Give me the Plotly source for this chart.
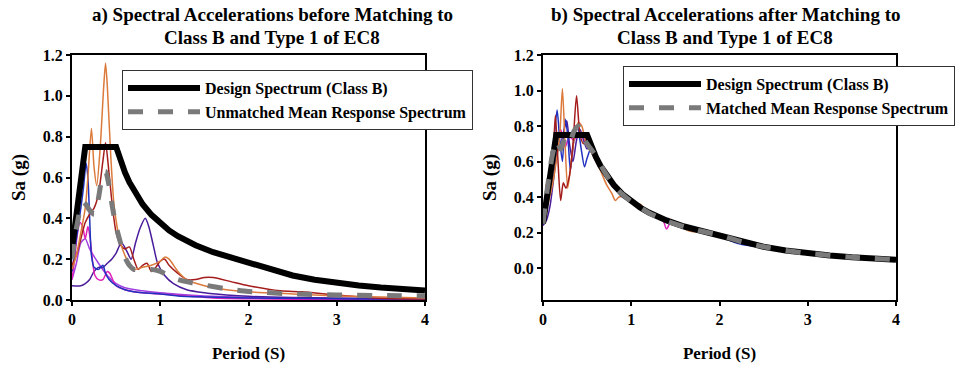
import plotly.graph_objects as go

# ---------------- data ----------------
# EC8 Type 1, Class B design spectrum
design_T = [0, 0.15, 0.5, 0.55, 0.6, 0.65, 0.7, 0.8, 0.9, 1.0, 1.1, 1.2, 1.4, 1.6, 1.8, 2.0,
            2.25, 2.5, 2.75, 3.0, 3.25, 3.5, 3.75, 4.0]
design_Sa = [0.25, 0.75, 0.75, 0.682, 0.625, 0.577, 0.536, 0.469, 0.417, 0.375, 0.341, 0.3125,
             0.268, 0.234, 0.208, 0.1875, 0.148, 0.12, 0.099, 0.083, 0.071, 0.061, 0.053, 0.047]

# ---- a) before matching ----
a_orange_T = [0, 0.05, 0.1, 0.15, 0.18, 0.22, 0.25, 0.28, 0.32, 0.36, 0.38, 0.40, 0.44, 0.48, 0.55,
              0.62, 0.7, 0.8, 0.9, 1.0, 1.05, 1.1, 1.2, 1.3, 1.5, 1.75, 2.0, 2.5, 3.0, 3.5, 4.0]
a_orange_Sa = [0.15, 0.22, 0.33, 0.45, 0.6, 0.84, 0.65, 0.56, 0.75, 1.05, 1.16, 1.05, 0.7, 0.45, 0.28,
               0.2, 0.15, 0.16, 0.17, 0.19, 0.21, 0.2, 0.14, 0.1, 0.07, 0.05, 0.04, 0.03, 0.02, 0.015, 0.01]

a_red_T = [0, 0.05, 0.1, 0.15, 0.2, 0.25, 0.3, 0.35, 0.38, 0.42, 0.46, 0.5, 0.55, 0.6, 0.65, 0.7,
           0.75, 0.8, 0.85, 0.9, 0.95, 1.0, 1.05, 1.1, 1.2, 1.3, 1.4, 1.5, 1.6, 1.8, 2.0, 2.36, 2.6,
           3.0, 3.5, 4.0]
a_red_Sa = [0.17, 0.22, 0.3, 0.38, 0.42, 0.45, 0.52, 0.68, 0.77, 0.62, 0.45, 0.33, 0.27, 0.25, 0.26, 0.2,
            0.15, 0.17, 0.18, 0.14, 0.16, 0.19, 0.2, 0.17, 0.13, 0.1, 0.1, 0.11, 0.11, 0.09, 0.07, 0.045,
            0.04, 0.025, 0.008, 0.005]

a_blue_T = [0, 0.05, 0.1, 0.13, 0.16, 0.18, 0.2, 0.22, 0.25, 0.3, 0.35, 0.38, 0.42, 0.5, 0.6, 0.7,
            0.8, 1.0, 1.2, 1.5, 2.0, 2.5, 3.0, 3.5, 4.0]
a_blue_Sa = [0.14, 0.3, 0.45, 0.55, 0.67, 0.6, 0.4, 0.22, 0.16, 0.15, 0.17, 0.13, 0.1, 0.07, 0.05, 0.04,
             0.035, 0.03, 0.02, 0.015, 0.01, 0.008, 0.006, 0.005, 0.005]

a_magenta_T = [0, 0.03, 0.06, 0.09, 0.12, 0.15, 0.18, 0.2, 0.23, 0.26, 0.3, 0.35, 0.4, 0.43, 0.47, 0.5,
               0.6, 0.7, 0.8, 1.0, 1.3, 1.6, 2.0, 2.5, 3.0, 4.0]
a_magenta_Sa = [0.1, 0.2, 0.32, 0.38, 0.36, 0.3, 0.36, 0.32, 0.2, 0.12, 0.1, 0.1, 0.14, 0.13, 0.09, 0.07,
                0.05, 0.04, 0.035, 0.03, 0.02, 0.01, 0.006, 0.004, 0.003, 0.002]

a_indigo_T = [0, 0.1, 0.15, 0.2, 0.25, 0.3, 0.35, 0.4, 0.45, 0.5, 0.56, 0.62, 0.67, 0.72, 0.77, 0.83,
              0.87, 0.92, 0.97, 1.05, 1.15, 1.3, 1.5, 1.75, 2.0, 2.5, 3.0, 3.5, 4.0]
a_indigo_Sa = [0.07, 0.07, 0.08, 0.1, 0.14, 0.16, 0.16, 0.18, 0.2, 0.23, 0.28, 0.24, 0.2, 0.28, 0.35, 0.4,
               0.36, 0.27, 0.18, 0.12, 0.08, 0.05, 0.035, 0.025, 0.018, 0.012, 0.01, 0.008, 0.007]

a_violet_T = [0, 0.05, 0.1, 0.15, 0.2, 0.3, 0.4, 0.5, 0.6, 0.8, 1.0, 1.2, 1.5, 2.0, 2.5, 3.0, 4.0]
a_violet_Sa = [0.1, 0.18, 0.28, 0.3, 0.25, 0.18, 0.12, 0.08, 0.06, 0.045, 0.035, 0.028, 0.02, 0.012,
               0.008, 0.006, 0.004]

a_mean_T = [0, 0.03, 0.07, 0.1, 0.13, 0.17, 0.2, 0.25, 0.3, 0.34, 0.38, 0.42, 0.46, 0.5, 0.55, 0.6,
            0.65, 0.7, 0.8, 0.9, 1.0, 1.1, 1.2, 1.35, 1.5, 1.75, 2.0, 2.5, 3.0, 3.5, 4.0]
a_mean_Sa = [0.2, 0.3, 0.4, 0.46, 0.48, 0.46, 0.44, 0.42, 0.5, 0.6, 0.63, 0.56, 0.45, 0.36, 0.28, 0.21,
             0.17, 0.15, 0.15, 0.15, 0.14, 0.12, 0.1, 0.085, 0.073, 0.055, 0.042, 0.03, 0.025, 0.022, 0.02]

# ---- b) after matching ----
b_orange_T = [0, 0.05, 0.1, 0.15, 0.19, 0.22, 0.25, 0.28, 0.32, 0.36, 0.4, 0.44, 0.48, 0.52, 0.58, 0.65,
              0.72, 0.78, 0.82, 0.86, 0.92, 1.0, 1.1, 1.2, 1.35, 1.5, 1.65, 1.8, 2.0, 2.3, 2.6, 3.0, 3.5, 4.0]
b_orange_Sa = [0.26, 0.35, 0.45, 0.6, 0.75, 1.01, 0.7, 0.45, 0.6, 0.75, 0.82, 0.8, 0.72, 0.68, 0.62, 0.55,
               0.47, 0.42, 0.38, 0.4, 0.4, 0.37, 0.36, 0.31, 0.27, 0.25, 0.21, 0.2, 0.18, 0.15, 0.12, 0.085,
               0.062, 0.048]

b_red_T = [0, 0.05, 0.1, 0.14, 0.17, 0.2, 0.23, 0.26, 0.3, 0.34, 0.38, 0.42, 0.46, 0.5, 0.55, 0.6, 0.7,
           0.8, 0.85, 0.9, 1.0, 1.2, 1.4, 1.6, 1.8, 2.0, 2.5, 3.0, 3.5, 4.0]
b_red_Sa = [0.3, 0.38, 0.5, 0.86, 0.6, 0.38, 0.48, 0.45, 0.52, 0.7, 0.97, 0.75, 0.7, 0.72, 0.68, 0.62,
            0.53, 0.47, 0.45, 0.42, 0.38, 0.31, 0.27, 0.23, 0.21, 0.19, 0.12, 0.083, 0.06, 0.046]

b_blue_T = [0, 0.05, 0.1, 0.13, 0.16, 0.19, 0.22, 0.25, 0.28, 0.31, 0.35, 0.39, 0.43, 0.47, 0.5, 0.55,
            0.6, 0.7, 0.8, 0.9, 1.0, 1.2, 1.4, 1.6, 1.8, 2.0, 2.2, 2.35, 2.5, 3.0, 3.5, 4.0]
b_blue_Sa = [0.27, 0.4, 0.55, 0.75, 0.89, 0.72, 0.6, 0.84, 0.75, 0.55, 0.72, 0.8, 0.68, 0.57, 0.62, 0.68,
             0.63, 0.54, 0.46, 0.4, 0.37, 0.31, 0.27, 0.23, 0.21, 0.18, 0.14, 0.125, 0.12, 0.082, 0.06, 0.046]

b_purple_T = [0, 0.04, 0.08, 0.12, 0.16, 0.2, 0.24, 0.27, 0.3, 0.34, 0.38, 0.42, 0.46, 0.5, 0.55, 0.6,
              0.7, 0.8, 0.9, 1.0, 1.2, 1.5, 2.0, 2.5, 3.0, 3.5, 4.0]
b_purple_Sa = [0.24, 0.27, 0.35, 0.5, 0.65, 0.7, 0.78, 0.83, 0.7, 0.6, 0.72, 0.78, 0.72, 0.67, 0.7, 0.63,
               0.53, 0.46, 0.42, 0.38, 0.31, 0.25, 0.18, 0.12, 0.085, 0.06, 0.047]

b_magenta_T = [0, 0.05, 0.1, 0.15, 0.2, 0.25, 0.3, 0.35, 0.4, 0.45, 0.5, 0.6, 0.7, 0.8, 0.9, 1.0, 1.2,
               1.35, 1.4, 1.45, 1.6, 2.0, 2.5, 3.0, 3.5, 4.0]
b_magenta_Sa = [0.28, 0.42, 0.58, 0.7, 0.78, 0.68, 0.74, 0.72, 0.76, 0.74, 0.7, 0.64, 0.54, 0.46, 0.42,
                0.38, 0.31, 0.28, 0.22, 0.26, 0.235, 0.19, 0.12, 0.083, 0.06, 0.047]

b_mean_T = [0, 0.05, 0.1, 0.15, 0.2, 0.25, 0.3, 0.35, 0.4, 0.45, 0.5, 0.6, 0.7, 0.8, 0.9, 1.0, 1.2, 1.4,
            1.6, 1.8, 2.0, 2.25, 2.5, 2.75, 3.0, 3.5, 4.0]
b_mean_Sa = [0.25, 0.45, 0.62, 0.72, 0.67, 0.73, 0.7, 0.77, 0.8, 0.74, 0.7, 0.63, 0.54, 0.465, 0.415,
             0.375, 0.31, 0.265, 0.232, 0.207, 0.186, 0.148, 0.12, 0.099, 0.083, 0.061, 0.047]

y_ticks = [0.0, 0.2, 0.4, 0.6, 0.8, 1.0, 1.2]
x_ticks = [0, 1, 2, 3, 4]

title_a = ["a) Spectral Accelerations before Matching to", "Class B and Type 1 of EC8"]
title_b = ["b) Spectral Accelerations after Matching to", "Class B and Type 1 of EC8"]

# ---------------- styles ----------------
C_ORANGE = "#dc7a3c"
C_RED = "#a51c1c"
C_BLUE = "#2030c0"
C_MAGENTA = "#e020b8"
C_INDIGO = "#4a1c9c"
C_VIOLET = "#a040e0"
C_MEAN = "#7a7a7a"
FONT = "Liberation Serif"

fig = go.Figure()


def rec(T, S, color, xa, ya):
    fig.add_trace(go.Scatter(x=T, y=S, mode="lines", xaxis=xa, yaxis=ya, showlegend=False,
                             line=dict(color=color, width=1.5, shape="spline", smoothing=0.7),
                             hoverinfo="skip"))


# panel a
rec(a_violet_T, a_violet_Sa, C_VIOLET, "x", "y")
rec(a_indigo_T, a_indigo_Sa, C_INDIGO, "x", "y")
rec(a_magenta_T, a_magenta_Sa, C_MAGENTA, "x", "y")
rec(a_blue_T, a_blue_Sa, C_BLUE, "x", "y")
rec(a_red_T, a_red_Sa, C_RED, "x", "y")
rec(a_orange_T, a_orange_Sa, C_ORANGE, "x", "y")
fig.add_trace(go.Scatter(x=design_T, y=design_Sa, mode="lines", name="Design Spectrum (Class B)",
                         line=dict(color="black", width=6), legend="legend"))
fig.add_trace(go.Scatter(x=a_mean_T, y=a_mean_Sa, mode="lines", name="Unmatched Mean Response Spectrum",
                         line=dict(color=C_MEAN, width=5, dash="dash", shape="spline", smoothing=0.6),
                         legend="legend"))

# panel b
rec(b_magenta_T, b_magenta_Sa, C_MAGENTA, "x2", "y2")
rec(b_purple_T, b_purple_Sa, C_INDIGO, "x2", "y2")
rec(b_blue_T, b_blue_Sa, C_BLUE, "x2", "y2")
rec(b_orange_T, b_orange_Sa, C_ORANGE, "x2", "y2")
rec(b_red_T, b_red_Sa, C_RED, "x2", "y2")
fig.add_trace(go.Scatter(x=design_T, y=design_Sa, mode="lines", name="Design Spectrum (Class B)",
                         xaxis="x2", yaxis="y2",
                         line=dict(color="black", width=6), legend="legend2"))
fig.add_trace(go.Scatter(x=b_mean_T, y=b_mean_Sa, mode="lines", name="Matched Mean Response Spectrum",
                         xaxis="x2", yaxis="y2",
                         line=dict(color=C_MEAN, width=5, dash="dash", shape="spline", smoothing=0.6),
                         legend="legend2"))

W, H = 958, 365
xd1 = [72 / W, 425 / W]
xd2 = [543 / W, 896 / W]
yd = [65 / H, 310 / H]

axis_common = dict(showline=True, linecolor="black", linewidth=2, mirror=True, ticks="outside",
                   ticklen=4, tickwidth=1.5, tickcolor="black", showgrid=False, zeroline=False,
                   tickfont=dict(family=FONT, size=16, color="black", weight="bold"),
                   automargin=False)

xtitle_font = dict(family=FONT, size=17, color="black", weight="bold")
ytitle_font = dict(family=FONT, size=19, color="black", weight="bold")
legend_font = dict(family=FONT, size=16, color="black", weight="bold")
head_font = dict(family=FONT, size=19, color="black", weight="bold")

annotations = []
for cx, lines in ((272, title_a), (725, title_b)):
    for cy, txt in zip((15, 37), lines):
        annotations.append(dict(text=txt, x=cx / W, y=1 - cy / H, xref="paper", yref="paper",
                                xanchor="center", yanchor="middle", showarrow=False, font=head_font))

fig.update_layout(
    width=W, height=H, margin=dict(l=0, r=0, t=0, b=0),
    plot_bgcolor="white", paper_bgcolor="white",
    font=dict(family=FONT, color="black", weight="bold"),
    xaxis=dict(domain=xd1, range=[0, 4], tickvals=x_ticks, anchor="y",
               title=dict(text="Period (S)", font=xtitle_font, standoff=20), **axis_common),
    yaxis=dict(domain=yd, range=[0, 1.2], tickvals=y_ticks, tickformat=".1f", anchor="x",
               title=dict(text="Sa (g)", font=ytitle_font, standoff=12), **axis_common),
    xaxis2=dict(domain=xd2, range=[0, 4], tickvals=x_ticks, anchor="y2",
                title=dict(text="Period (S)", font=xtitle_font, standoff=20), **axis_common),
    yaxis2=dict(domain=yd, range=[-0.18, 1.2], tickvals=y_ticks, tickformat=".1f", anchor="x2",
                title=dict(text="Sa (g)", font=ytitle_font, standoff=12), **axis_common),
    legend=dict(x=122 / W, y=1 - 70 / H, xanchor="left", yanchor="top", bgcolor="white",
                bordercolor="#333333", borderwidth=1, itemwidth=72, font=legend_font),
    legend2=dict(x=623 / W, y=1 - 66 / H, xanchor="left", yanchor="top", bgcolor="white",
                 bordercolor="#333333", borderwidth=1, itemwidth=72, font=legend_font),
    annotations=annotations,
)

fig.write_html("out.html")
